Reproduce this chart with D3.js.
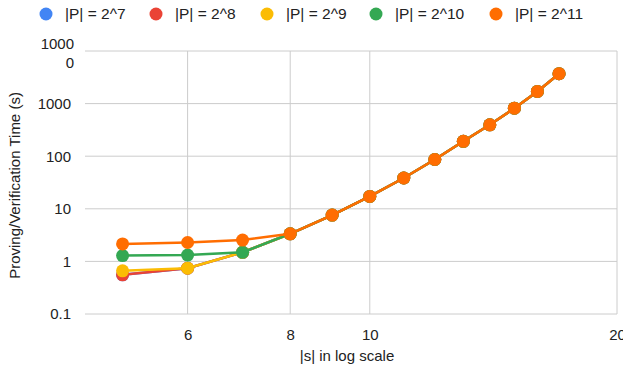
<!DOCTYPE html>
<html>
<head>
<meta charset="utf-8">
<script src="https://cdn.jsdelivr.net/npm/d3@7"></script>
<style>
body { margin: 0; background: #fff; }
text { font-family: "Liberation Sans", Arial, sans-serif; fill: #222; }
</style>
</head>
<body>
<svg id="chart" width="623" height="377"></svg>
<script>
// sizes of the set |s|
var sizes = [5, 6, 7, 8, 9, 10, 11, 12, 13, 14, 15, 16, 17];

// proving / verification time in seconds, one list per |P|
var shared = [3.35, 7.6, 17.2, 38.5, 86.5, 192, 395, 818, 1706, 3705];
var p7  = [0.555, 0.743, 1.49].concat(shared);
var p8  = [0.555, 0.743, 1.49].concat(shared);
var p9  = [0.662, 0.743, 1.49].concat(shared);
var p10 = [1.29, 1.32, 1.49].concat(shared);
var p11 = [2.15, 2.29, 2.54].concat(shared);

var seriesNames = ['|P| = 2^7', '|P| = 2^8', '|P| = 2^9', '|P| = 2^10', '|P| = 2^11'];
var seriesValues = [p7, p8, p9, p10, p11];
var colours = ['#4285f4', '#ea4335', '#fbbc04', '#34a853', '#ff6d01'];

var xTicks = [6, 8, 10, 20];
var yTicks = [0.1, 1, 10, 100, 1000, 10000];

var svg = d3.select('#chart');
var plotLeft = 85, plotRight = 617, plotTop = 51, plotBottom = 314;
var fontSize = 15;

var x = d3.scaleLog().domain([4.5, 20]).range([plotLeft, plotRight]);
var y = d3.scaleLog().domain([0.1, 10000]).range([plotBottom, plotTop]);

// grid
svg.append('g').selectAll('line').data(yTicks).enter().append('line')
	.attr('x1', plotLeft).attr('x2', plotRight)
	.attr('y1', d => y(d)).attr('y2', d => y(d))
	.attr('stroke', '#cccccc').attr('stroke-width', 1);
svg.append('g').selectAll('line').data(xTicks).enter().append('line')
	.attr('x1', d => x(d)).attr('x2', d => x(d))
	.attr('y1', plotTop).attr('y2', plotBottom)
	.attr('stroke', '#cccccc').attr('stroke-width', 1);

// axes, text only
var yAxis = svg.append('g').attr('transform', 'translate(' + (plotLeft - 11) + ',0)')
	.call(d3.axisLeft(y).tickValues(yTicks).tickSize(0).tickFormat(d => d3.format('~g')(d)));
var xAxis = svg.append('g').attr('transform', 'translate(0,' + (plotBottom + 12) + ')')
	.call(d3.axisBottom(x).tickValues(xTicks).tickSize(0).tickFormat(d3.format('d')));
[yAxis, xAxis].forEach(function(a) {
	a.select('.domain').remove();
	a.selectAll('text').attr('font-size', fontSize).attr('font-family', '"Liberation Sans", Arial, sans-serif').attr('fill', '#222');
});
xAxis.selectAll('text').attr('dy', '0.71em');

// the top label is wrapped like the original
yAxis.selectAll('.tick text').filter(d => d === 10000).each(function() {
	var t = d3.select(this).text('').attr('dy', null);
	t.append('tspan').attr('x', 0).attr('y', -3).text('1000');
	t.append('tspan').attr('x', 0).attr('y', 16).text('0');
});

// lines and points
var line = d3.line().x((d, i) => x(sizes[i])).y(d => y(d));
seriesValues.forEach(function(vals, k) {
	var g = svg.append('g');
	g.append('path').datum(vals).attr('d', line)
		.attr('fill', 'none').attr('stroke', colours[k]).attr('stroke-width', 2.5);
	g.selectAll('circle').data(vals).enter().append('circle')
		.attr('cx', (d, i) => x(sizes[i])).attr('cy', d => y(d)).attr('r', 6.5)
		.attr('fill', colours[k]);
});

// axis titles
svg.append('text').attr('x', 347).attr('y', 361)
	.attr('text-anchor', 'middle').attr('font-size', fontSize).text('|s| in log scale');
svg.append('text').attr('transform', 'translate(20,' + ((plotTop + plotBottom) / 2 + 3) + ') rotate(-90)')
	.attr('text-anchor', 'middle').attr('font-size', fontSize).text('Proving/Verification Time (s)');

// legend
var legendX = [46, 156, 267, 376, 496];
var legend = svg.append('g').selectAll('g').data(seriesNames).enter().append('g')
	.attr('transform', (d, i) => 'translate(' + legendX[i] + ',14)');
legend.append('circle').attr('r', 6.5).attr('fill', (d, i) => colours[i]);
legend.append('text').attr('x', 19).attr('dy', '0.35em').attr('font-size', 15.5).text(d => d);
</script>
</body>
</html>
